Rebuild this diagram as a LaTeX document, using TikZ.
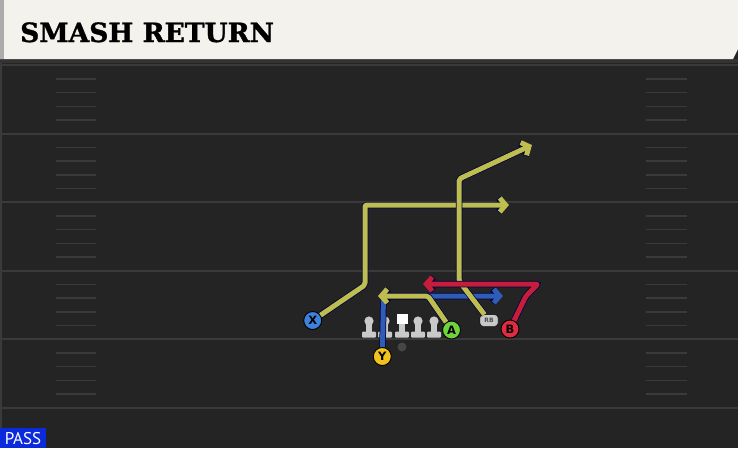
\documentclass[tikz,border=0pt]{standalone}
\usepackage{fontspec}
\setsansfont{DejaVu Sans}
\newfontfamily\titlefont{DejaVu Serif}[BoldFont={DejaVu Serif Bold},BoldFeatures={FakeBold=1.2}]
\newfontfamily\badgefont{PT Sans}
\usetikzlibrary{arrows.meta,shapes}
\definecolor{turf}{HTML}{242424}
\definecolor{chalk}{HTML}{3A3A3A}
\definecolor{paper}{HTML}{F4F2EC}
\definecolor{yroute}{HTML}{BDBE4E}
\definecolor{broute}{HTML}{2F5DB5}
\definecolor{rroute}{HTML}{C41E3A}
\definecolor{xblue}{HTML}{3C82DC}
\definecolor{yyellow}{HTML}{F2C31C}
\definecolor{agreen}{HTML}{70D23C}
\definecolor{bred}{HTML}{E22A40}
\definecolor{passblue}{HTML}{0B2ADB}
\definecolor{pawn}{HTML}{C9C9C9}
\def\field{(0,0) rectangle (738,448)}
\def\header{(0,0) -- (738,0) -- (738,49) -- (733,59) -- (0,59) -- cycle}
\tikzset{
  player/.style={circle,draw=black,line width=0.9pt,minimum size=18pt,inner sep=0pt,
    font=\sffamily\bfseries\fontsize{11.5}{11.5}\selectfont},
  hash/.style={chalk,line width=1.5pt},
  route/.style={line width=5pt,line join=round,rounded corners=2pt,
    -{Straight Barb[length=6pt,width=14pt]},
    preaction={draw=black!75!blue,line width=6.5pt}},
}
\begin{document}
\begin{tikzpicture}[x=1pt,y=-1pt]
  \useasboundingbox \field;
  \fill[turf] \field;
  \fill[black!80] (0,59) rectangle (738,63);
  \fill[paper] \header;
  \fill[gray!65] (0,0) rectangle (4,59);
  \node[anchor=base west,inner sep=0pt,font=\titlefont\bfseries\fontsize{26.5}{26.5}\selectfont] (title) at (20,42) {SMASH RETURN};
  % yard lines and hash marks
  \draw[chalk,line width=1.5pt] (0.75,63) -- (0.75,448);
  \foreach \k in {0,...,5}
    \draw[chalk,line width=1.8pt] (0,{65.2+68.5*\k}) -- (738,{65.2+68.5*\k});
  \foreach \k in {0,...,4}
    \foreach \h in {1,...,4} {
      \draw[hash] (56,{65.2+68.5*\k+13.7*\h}) -- (96,{65.2+68.5*\k+13.7*\h});
      \draw[hash] (646,{65.2+68.5*\k+13.7*\h}) -- (687,{65.2+68.5*\k+13.7*\h});
    }
  % line
  \foreach \x in {369,385,418,434}
    \fill[pawn] (\x,321) circle (4.6);
  \foreach \x in {369,385,402,418,434} {
    \fill[pawn] (\x-2.6,323) rectangle (\x+2.6,333);
    \fill[pawn,rounded corners=1pt] (\x-7,331.5) rectangle (\x+7,337.5);
  }
  \fill[white] (396.5,313.5) rectangle (407.5,324);
  \node[circle,fill=gray!55!black,minimum size=9pt,inner sep=0pt] (ball) at (402,347) {};
  % players
  \node[player,fill=xblue] (X) at (312.7,320.5) {X};
  \node[player,fill=yyellow] (Y) at (382.3,356.5) {Y};
  \node[player,fill=agreen] (A) at (451.5,330) {A};
  \node[player,fill=bred] (B) at (510,329) {B};
  \node[draw=black,fill=pawn,rounded corners=3pt,minimum width=18pt,minimum height=11.5pt,inner sep=0pt,
    font=\sffamily\bfseries\fontsize{6}{6}\selectfont,text=black!70] (RB) at (489,320.5) {RB};
  % routes
  \coordinate (x1) at (365,285);
  \coordinate (x2) at (365,205);
  \coordinate (xend) at (509,205);
  \coordinate (a1) at (428,296);
  \coordinate (aend) at (378,296);
  \coordinate (y1) at (383.5,296);
  \coordinate (yend) at (503,296);
  \coordinate (rb1) at (459,281);
  \coordinate (rb2) at (459,179);
  \coordinate (rbend) at (532,145);
  \coordinate (b1) at (526,296);
  \coordinate (b2) at (538,284);
  \coordinate (bend) at (423,284);
  \draw[route,broute] (Y) -- (y1) -- (yend);
  \draw[route,yroute] (X) -- (x1) -- (x2) -- (xend);
  \draw[route,yroute] (A) -- (a1) -- (aend);
  \draw[route,yroute] (RB) -- (rb1) -- (rb2) -- (rbend);
  \draw[route,rroute] (B) -- (b1) -- (b2) -- (bend);
  % play type
  \fill[passblue] (0,428) rectangle (46,448);
  \node[text=white,inner sep=0pt,font=\badgefont\fontsize{17}{17}\selectfont] (pass) at (23,438.5) {PASS};
\end{tikzpicture}
\end{document}
